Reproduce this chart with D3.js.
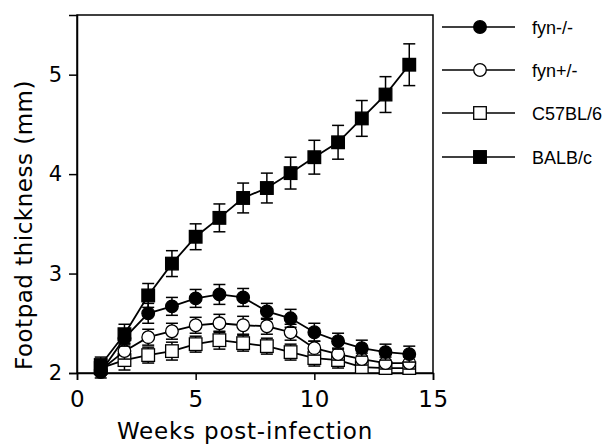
<!DOCTYPE html>
<html><head><meta charset="utf-8">
<script src="https://cdn.jsdelivr.net/npm/d3@7"></script>
<style>html,body{margin:0;padding:0;background:#fff;}</style>
</head><body>
<svg id="c" width="608" height="444"></svg>
<script>
const weeks = [1,2,3,4,5,6,7,8,9,10,11,12,13,14];
const seriesNames = ["fyn-/-","fyn+/-","C57BL/6","BALB/c"];
const fynKO = [2.01,2.35,2.60,2.67,2.75,2.79,2.76,2.62,2.55,2.41,2.32,2.25,2.21,2.19];
const fynKOErr = [0.06,0.08,0.10,0.09,0.09,0.10,0.09,0.08,0.09,0.09,0.08,0.08,0.08,0.08];
const fynHet = [2.03,2.22,2.36,2.42,2.48,2.50,2.48,2.47,2.41,2.25,2.19,2.14,2.10,2.10];
const fynHetErr = [0.05,0.08,0.08,0.08,0.08,0.09,0.09,0.08,0.08,0.07,0.06,0.06,0.06,0.06];
const c57 = [2.05,2.13,2.18,2.22,2.29,2.33,2.30,2.27,2.21,2.15,2.13,2.06,2.05,2.05];
const c57Err = [0.05,0.10,0.08,0.09,0.08,0.09,0.08,0.08,0.08,0.08,0.08,0.06,0.05,0.05];
const balb = [2.08,2.39,2.78,3.10,3.37,3.56,3.76,3.86,4.01,4.17,4.32,4.56,4.80,5.10];
const balbErr = [0.08,0.10,0.12,0.13,0.13,0.14,0.15,0.15,0.16,0.17,0.17,0.18,0.18,0.21];
const xTicks = [0,5,10,15];
const yTicks = [2,3,4,5];
const xLabel = "Weeks post-infection";
const yLabel = "Footpad thickness (mm)";

const series = [
  {name: seriesNames[2], vals: c57, err: c57Err, shape: "square", fill: "#fff"},
  {name: seriesNames[1], vals: fynHet, err: fynHetErr, shape: "circle", fill: "#fff"},
  {name: seriesNames[3], vals: balb, err: balbErr, shape: "square", fill: "#000"},
  {name: seriesNames[0], vals: fynKO, err: fynKOErr, shape: "circle", fill: "#000"}
];
const legendOrder = [3,1,0,2];

const svg = d3.select("#c");
const L = 77, R = 433, T = 15, B = 373;
const x = d3.scaleLinear().domain([0,15]).range([L,R]);
const y = d3.scaleLinear().domain([2,5.6]).range([B,T]);
const font = "'DejaVu Sans', sans-serif";

// frame
svg.append("rect").attr("x",L).attr("y",T).attr("width",R-L).attr("height",B-T)
  .attr("fill","none").attr("stroke","#000").attr("stroke-width",1.5);

const xAxis = svg.append("g").attr("transform",`translate(0,${B})`)
  .call(d3.axisBottom(x).tickValues(xTicks).tickSize(7).tickPadding(11).tickFormat(d3.format("d")));
const yAxis = svg.append("g").attr("transform",`translate(${L},0)`)
  .call(d3.axisLeft(y).tickValues(yTicks).tickSize(8).tickPadding(7).tickFormat(d3.format("d")));
[xAxis,yAxis].forEach(a=>{
  a.select(".domain").attr("stroke","#000").attr("stroke-width",1.5);
  a.selectAll(".tick line").attr("stroke","#000").attr("stroke-width",1.5);
  a.selectAll(".tick text").attr("fill","#000").style("font-family",font);
});
xAxis.selectAll(".tick text").style("font-size","23px").style("letter-spacing","0.5px");
yAxis.selectAll(".tick text").style("font-size","21px");

svg.append("text").attr("x",245).attr("y",439).attr("text-anchor","middle")
  .style("font-family",font).style("font-size","23px").style("letter-spacing","0.8px").text(xLabel);
svg.append("text").attr("transform",`translate(32,${225}) rotate(-90)`).attr("text-anchor","middle")
  .style("font-family",font).style("font-size","23px").style("letter-spacing","0.5px").text(yLabel);

const line = d3.line().x((d,i)=>x(weeks[i])).y(d=>y(d));
const capW = 6, ms = 6.3;

function drawMarker(g, shape, fill, cx, cy){
  if(shape==="circle"){
    g.append("circle").attr("cx",cx).attr("cy",cy).attr("r",ms)
      .attr("fill",fill).attr("stroke","#000").attr("stroke-width",1.3);
  } else {
    g.append("rect").attr("x",cx-ms).attr("y",cy-ms).attr("width",2*ms).attr("height",2*ms)
      .attr("fill",fill).attr("stroke","#000").attr("stroke-width",1.3);
  }
}

series.forEach(s=>{
  const g = svg.append("g");
  g.append("path").datum(s.vals).attr("d",line).attr("fill","none")
    .attr("stroke","#000").attr("stroke-width",1.8);
  s.vals.forEach((v,i)=>{
    const cx = x(weeks[i]), y0 = y(v-s.err[i]), y1 = y(v+s.err[i]);
    g.append("line").attr("x1",cx).attr("x2",cx).attr("y1",y0).attr("y2",y1).attr("stroke","#000").attr("stroke-width",1.5);
    g.append("line").attr("x1",cx-capW).attr("x2",cx+capW).attr("y1",y0).attr("y2",y0).attr("stroke","#000").attr("stroke-width",1.5);
    g.append("line").attr("x1",cx-capW).attr("x2",cx+capW).attr("y1",y1).attr("y2",y1).attr("stroke","#000").attr("stroke-width",1.5);
  });
  s.vals.forEach((v,i)=>drawMarker(g, s.shape, s.fill, x(weeks[i]), y(v)));
});

// legend
const legY = [27,70,113,157];
legendOrder.forEach((si,k)=>{
  const s = series[si];
  const g = svg.append("g");
  g.append("line").attr("x1",442).attr("x2",515).attr("y1",legY[k]).attr("y2",legY[k])
    .attr("stroke","#000").attr("stroke-width",1.3);
  drawMarker(g, s.shape, s.fill, 480, legY[k]);
  g.append("text").attr("x",532).attr("y",legY[k]+6.5).style("font-family","'Liberation Sans', Arial, sans-serif")
    .style("font-size","18px").text(s.name);
});
</script>
</body></html>
